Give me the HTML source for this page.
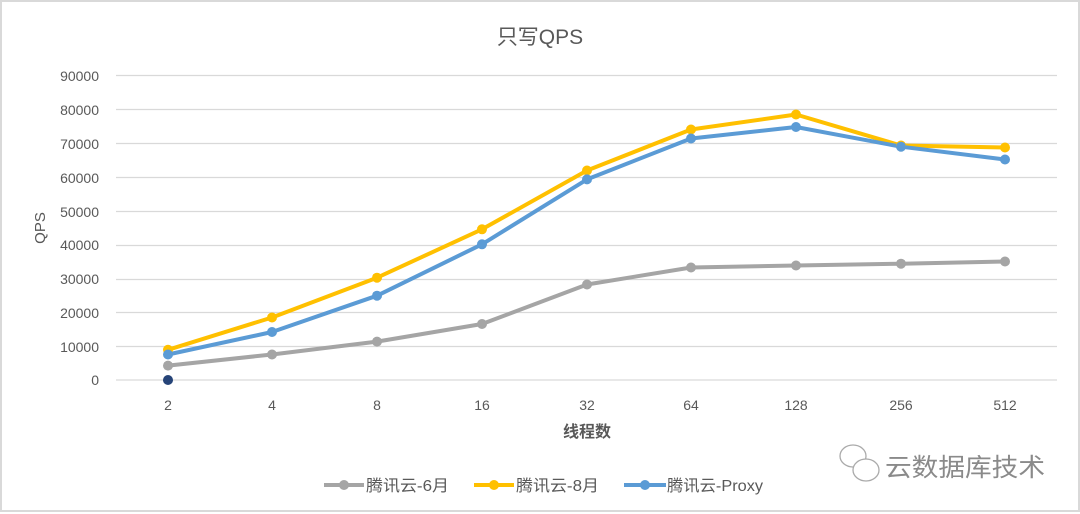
<!DOCTYPE html>
<html><head><meta charset="utf-8"><style>
html,body{margin:0;padding:0;background:#fff}
svg{display:block}
text{font-family:"Liberation Sans","Noto Sans CJK SC",sans-serif}
</style></head><body>
<svg width="1080" height="514" viewBox="0 0 1080 514" xmlns="http://www.w3.org/2000/svg">
<rect x="1" y="1" width="1078" height="510" fill="#fff" stroke="#d9d9d9" stroke-width="2"/>
<text x="540" y="44" text-anchor="middle" font-size="21" fill="#595959">只写QPS</text>
<g stroke="#d9d9d9" stroke-width="1.2">
<line x1="116" x2="1057" y1="75.5" y2="75.5"/><line x1="116" x2="1057" y1="109.5" y2="109.5"/>
<line x1="116" x2="1057" y1="143.5" y2="143.5"/><line x1="116" x2="1057" y1="177.5" y2="177.5"/>
<line x1="116" x2="1057" y1="211.5" y2="211.5"/><line x1="116" x2="1057" y1="245.5" y2="245.5"/>
<line x1="116" x2="1057" y1="279.5" y2="279.5"/><line x1="116" x2="1057" y1="312.5" y2="312.5"/>
<line x1="116" x2="1057" y1="346.5" y2="346.5"/><line x1="116" x2="1057" y1="380" y2="380"/>
</g>
<g font-size="14" fill="#595959" text-anchor="end">
<text x="99" y="81">90000</text><text x="99" y="115">80000</text><text x="99" y="149">70000</text>
<text x="99" y="183">60000</text><text x="99" y="217">50000</text><text x="99" y="250">40000</text>
<text x="99" y="284">30000</text><text x="99" y="318">20000</text><text x="99" y="352">10000</text>
<text x="99" y="385">0</text>
</g>
<text transform="translate(45,228) rotate(-90)" text-anchor="middle" font-size="15" fill="#595959">QPS</text>
<g font-size="14" fill="#595959" text-anchor="middle">
<text x="168" y="410">2</text><text x="272" y="410">4</text><text x="377" y="410">8</text>
<text x="482" y="410">16</text><text x="587" y="410">32</text><text x="691" y="410">64</text>
<text x="796" y="410">128</text><text x="901" y="410">256</text><text x="1005" y="410">512</text>
</g>
<text x="587" y="437" text-anchor="middle" font-size="16" font-weight="bold" fill="#595959">线程数</text>
<g fill="none" stroke-width="4" stroke-linejoin="round">
<polyline stroke="#a5a5a5" points="168,365.6 272,354.5 377,341.6 482,324 587,284.5 691,267.5 796,265.5 901,263.7 1005,261.5"/>
<polyline stroke="#ffc000" points="168,349.8 272,317.5 377,277.7 482,229.3 587,170.5 691,129.5 796,114.5 901,145.5 1005,147.5"/>
<polyline stroke="#5b9bd5" points="168,354.5 272,332 377,295.7 482,244.3 587,179.4 691,138.5 796,127 901,146.7 1005,159.5"/>
</g>
<g fill="#a5a5a5"><circle cx="168" cy="365.6" r="5"/><circle cx="272" cy="354.5" r="5"/><circle cx="377" cy="341.6" r="5"/><circle cx="482" cy="324" r="5"/><circle cx="587" cy="284.5" r="5"/><circle cx="691" cy="267.5" r="5"/><circle cx="796" cy="265.5" r="5"/><circle cx="901" cy="263.7" r="5"/><circle cx="1005" cy="261.5" r="5"/></g>
<g fill="#ffc000"><circle cx="168" cy="349.8" r="5"/><circle cx="272" cy="317.5" r="5"/><circle cx="377" cy="277.7" r="5"/><circle cx="482" cy="229.3" r="5"/><circle cx="587" cy="170.5" r="5"/><circle cx="691" cy="129.5" r="5"/><circle cx="796" cy="114.5" r="5"/><circle cx="901" cy="145.5" r="5"/><circle cx="1005" cy="147.5" r="5"/></g>
<g fill="#5b9bd5"><circle cx="168" cy="354.5" r="5"/><circle cx="272" cy="332" r="5"/><circle cx="377" cy="295.7" r="5"/><circle cx="482" cy="244.3" r="5"/><circle cx="587" cy="179.4" r="5"/><circle cx="691" cy="138.5" r="5"/><circle cx="796" cy="127" r="5"/><circle cx="901" cy="146.7" r="5"/><circle cx="1005" cy="159.5" r="5"/></g>
<circle cx="168" cy="380" r="5" fill="#264478"/>
<g stroke-width="4">
<line x1="324" x2="364" y1="485" y2="485" stroke="#a5a5a5"/><circle cx="344" cy="485" r="5" fill="#a5a5a5"/>
<line x1="474" x2="514" y1="485" y2="485" stroke="#ffc000"/><circle cx="494" cy="485" r="5" fill="#ffc000"/>
<line x1="624" x2="666" y1="485" y2="485" stroke="#5b9bd5"/><circle cx="645" cy="485" r="5" fill="#5b9bd5"/>
</g>
<g font-size="16" fill="#595959">
<text x="366" y="491" textLength="83" lengthAdjust="spacingAndGlyphs">腾讯云-6月</text>
<text x="516" y="491" textLength="83" lengthAdjust="spacingAndGlyphs">腾讯云-8月</text>
<text x="667" y="491" textLength="96" lengthAdjust="spacingAndGlyphs">腾讯云-Proxy</text>
</g>
<g fill="#fff" stroke="#aaa" stroke-width="1.3">
<ellipse cx="853" cy="456" rx="13" ry="11"/><ellipse cx="866" cy="470" rx="13" ry="11"/>
</g>
<text x="885" y="476" font-size="25" fill="#8a8a8a" textLength="160" lengthAdjust="spacingAndGlyphs">云数据库技术</text>
</svg>
</body></html>
